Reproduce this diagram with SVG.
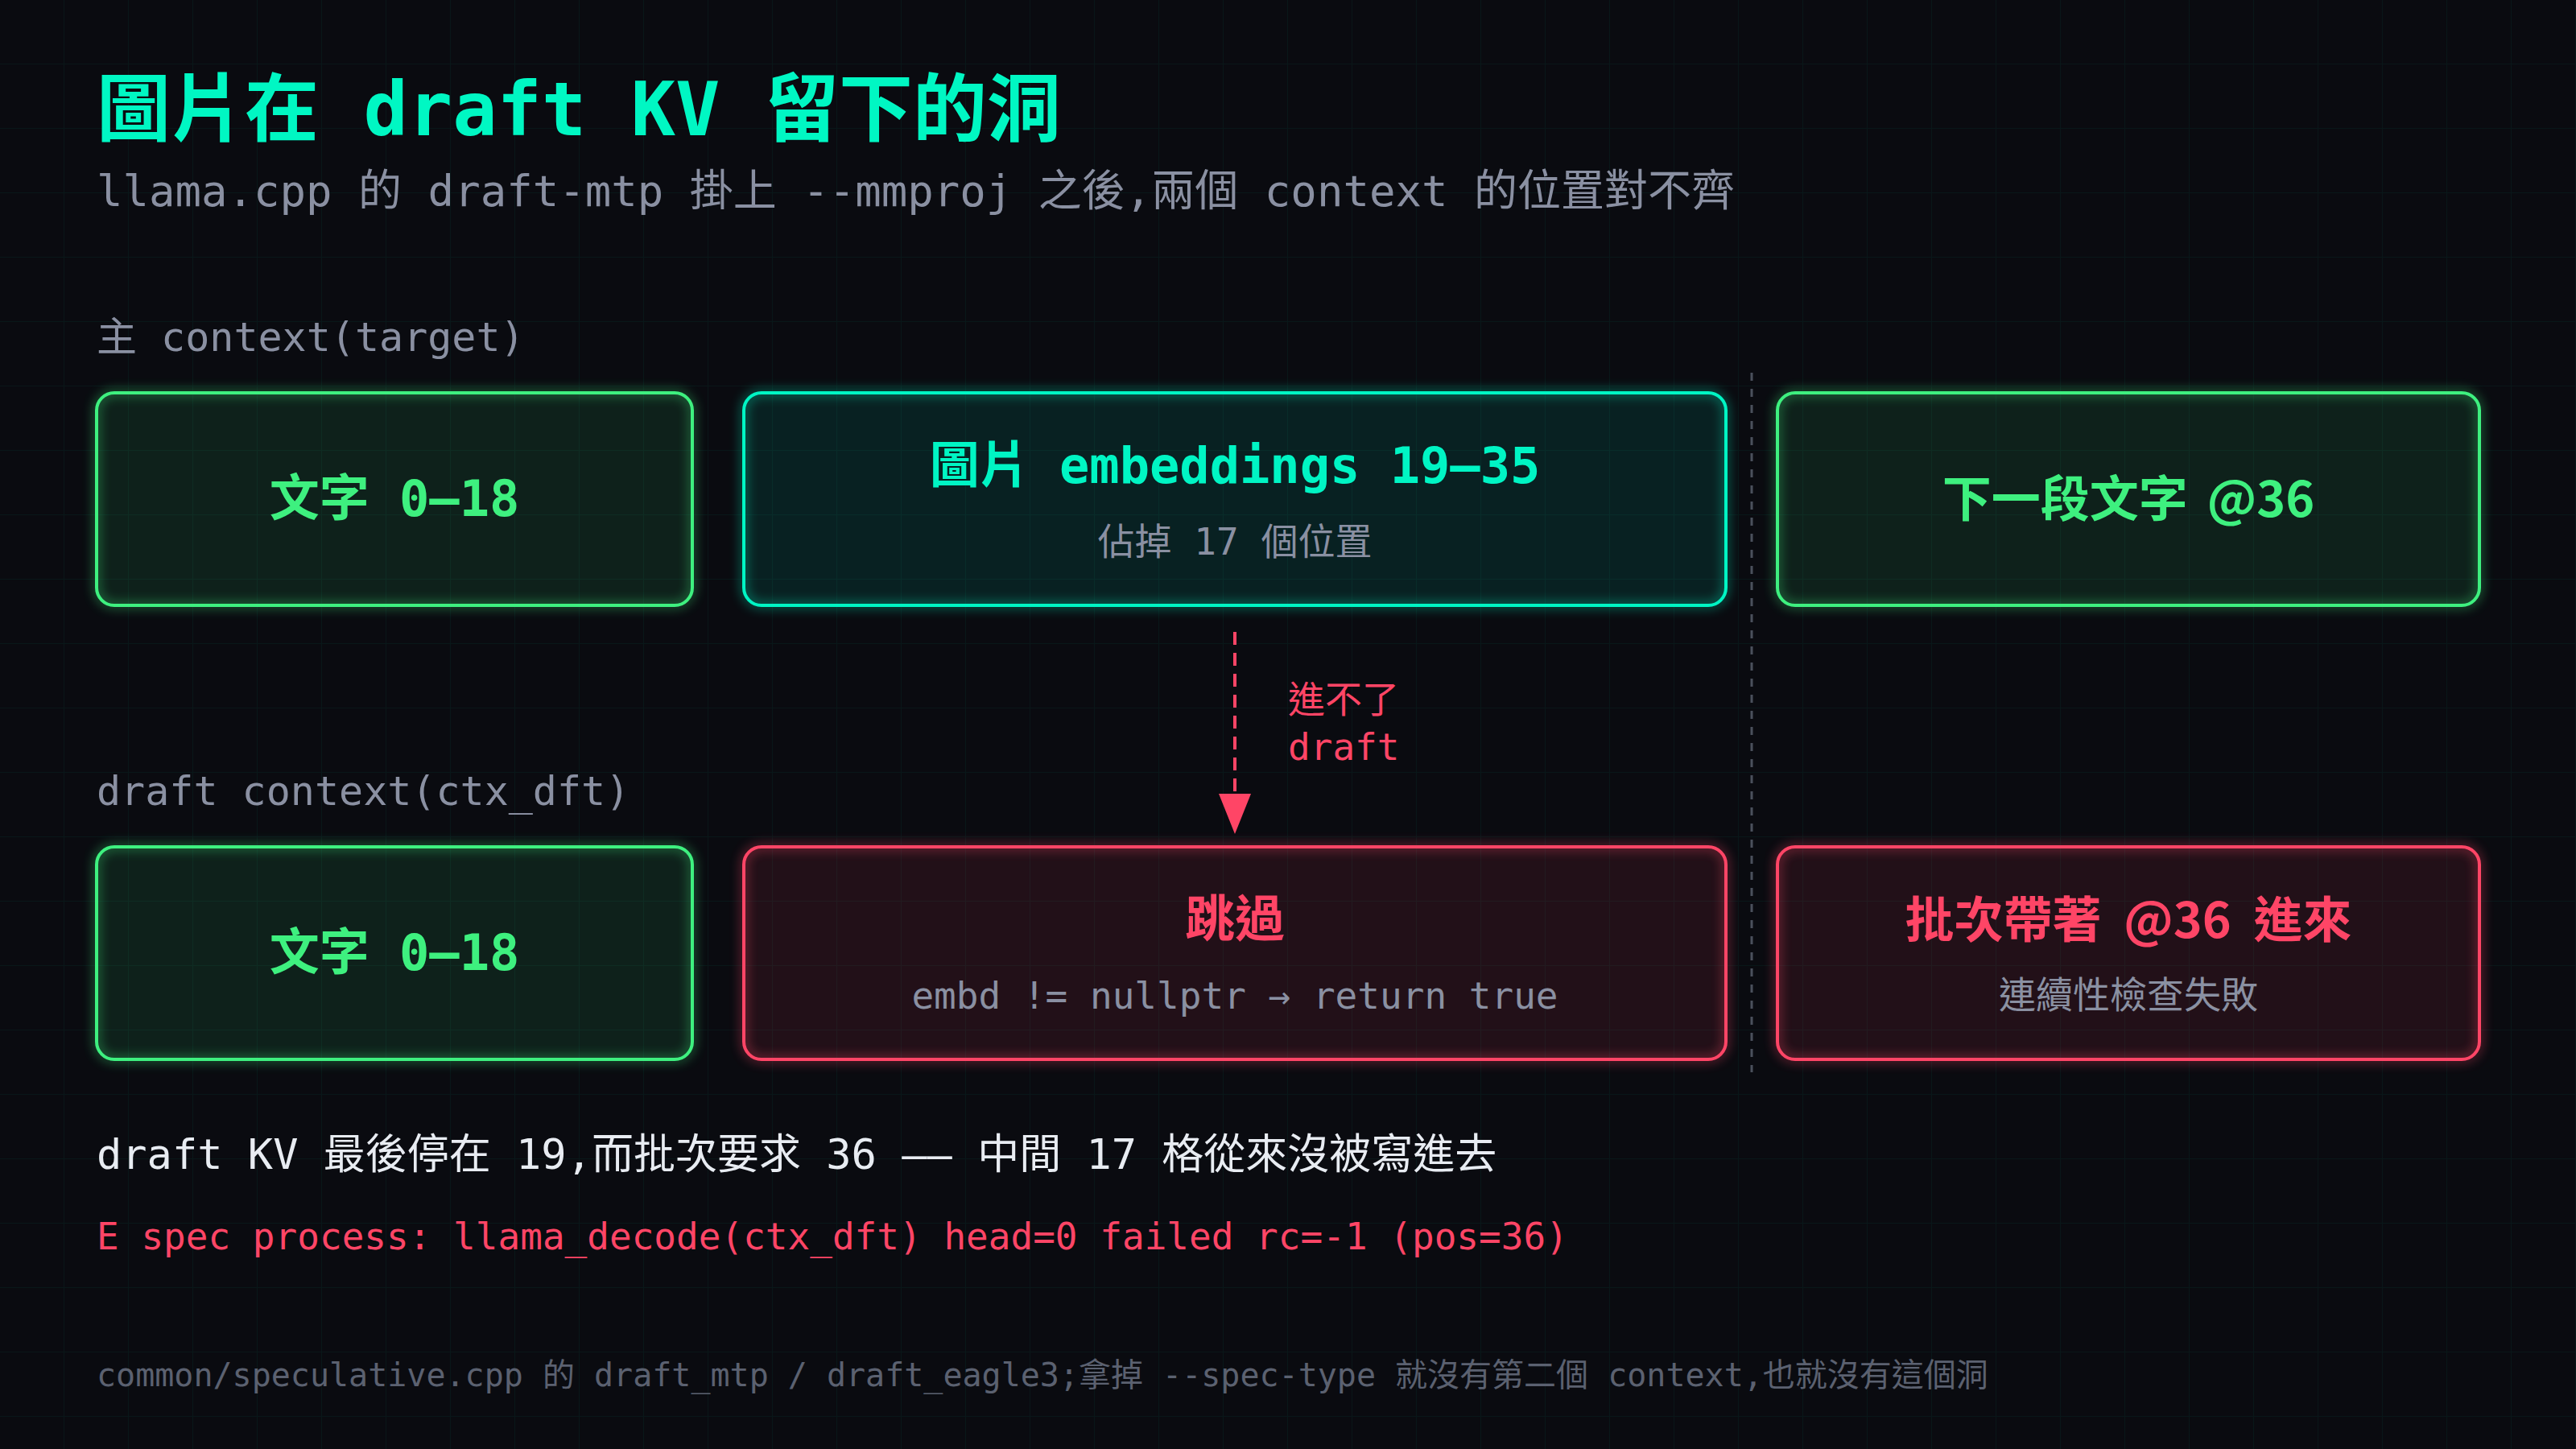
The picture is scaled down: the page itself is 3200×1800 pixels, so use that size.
<svg xmlns="http://www.w3.org/2000/svg" width="3200" height="1800" viewBox="0 0 3200 1800">
  <defs>
    <pattern id="grid" width="80" height="80" patternUnits="userSpaceOnUse">
      <path d="M80 0 V80 M0 80 H80" fill="none" stroke="#00ffc8" stroke-opacity="0.05" stroke-width="2"/>
    </pattern>
    <filter id="glow" x="-10%" y="-20%" width="120%" height="140%">
      <feGaussianBlur stdDeviation="7"/>
    </filter>
    <marker id="arrow" markerUnits="userSpaceOnUse" markerWidth="50" markerHeight="40" refX="14" refY="20" orient="auto">
      <path d="M0 0 L50 20 L0 40 Z" fill="#ff4566"/>
    </marker>
    <style>
      .mono { font-family: 'DejaVu Sans Mono', 'Noto Sans CJK TC', monospace; }
      .sans { font-family: 'Noto Sans CJK TC', 'Noto Sans', sans-serif; }
      .box { stroke-width: 4; }
      .halo { fill: none; stroke-width: 6; opacity: 0.55; filter: url(#glow); }
      .green .box { fill: #3ef07f; fill-opacity: 0.1; stroke: #3ef07f; }
      .green .halo { stroke: #3ef07f; }
      .teal .box { fill: #00f0c0; fill-opacity: 0.1; stroke: #00f5c4; }
      .teal .halo { stroke: #00f5c4; }
      .red .box { fill: #ff4566; fill-opacity: 0.1; stroke: #ff4566; }
      .red .halo { stroke: #ff4566; }
      .t-green { fill: #3ef07f; font-weight: bold; font-size: 62px; }
      .t-teal { fill: #00f5c4; font-weight: bold; font-size: 62px; }
      .t-red { fill: #ff4566; font-weight: bold; font-size: 62px; }
      .sans.t-green, .sans.t-red { font-size: 61px; }
      .sub { fill: #8a90a2; font-size: 46px; }
      .label { fill: #8a90a2; font-size: 50px; }
    </style>
  </defs>

  <rect x="0" y="0" width="3200" height="1800" fill="#0a0b10"/>
  <rect x="0" y="0" width="3200" height="1800" fill="url(#grid)"/>

  <text class="mono" x="120" y="168" font-size="92" font-weight="bold" fill="#00f7c3">圖片在 draft KV 留下的洞</text>
  <text class="mono" x="120" y="256" font-size="54" fill="#8a90a2">llama.cpp 的 draft-mtp 掛上 --mmproj 之後,兩個 context 的位置對不齊</text>

  <text class="mono label" x="120" y="436">主 context(target)</text>
  <text class="mono label" x="120" y="1000">draft context(ctx_dft)</text>

  <line x1="2176" y1="463" x2="2176" y2="1332" stroke="#4a505c" stroke-width="3" stroke-dasharray="10 10"/>

  <g id="node-target-text" class="green">
    <rect class="halo" x="120" y="488" width="740" height="264" rx="22"/>
    <rect class="box" x="120" y="488" width="740" height="264" rx="22"/>
    <text class="mono t-green" x="490" y="641" text-anchor="middle">文字 0–18</text>
  </g>

  <g id="node-target-image" class="teal">
    <rect class="halo" x="924" y="488" width="1220" height="264" rx="22"/>
    <rect class="box" x="924" y="488" width="1220" height="264" rx="22"/>
    <text class="mono t-teal" x="1534" y="600" text-anchor="middle">圖片 embeddings 19–35</text>
    <text class="mono sub" x="1534" y="689" text-anchor="middle">佔掉 17 個位置</text>
  </g>

  <g id="node-target-next" class="green">
    <rect class="halo" x="2208" y="488" width="872" height="264" rx="22"/>
    <rect class="box" x="2208" y="488" width="872" height="264" rx="22"/>
    <text class="sans t-green" x="2644" y="642" text-anchor="middle">下一段文字 <tspan dx="10">@36</tspan></text>
  </g>

  <g id="node-draft-text" class="green">
    <rect class="halo" x="120" y="1052" width="740" height="264" rx="22"/>
    <rect class="box" x="120" y="1052" width="740" height="264" rx="22"/>
    <text class="mono t-green" x="490" y="1205" text-anchor="middle">文字 0–18</text>
  </g>

  <g id="node-draft-skip" class="red">
    <rect class="halo" x="924" y="1052" width="1220" height="264" rx="22"/>
    <rect class="box" x="924" y="1052" width="1220" height="264" rx="22"/>
    <text class="mono t-red" x="1534" y="1164" text-anchor="middle">跳過</text>
    <text class="mono sub" x="1534" y="1253" text-anchor="middle">embd != nullptr → return true</text>
  </g>

  <g id="node-draft-batch" class="red">
    <rect class="halo" x="2208" y="1052" width="872" height="264" rx="22"/>
    <rect class="box" x="2208" y="1052" width="872" height="264" rx="22"/>
    <text class="sans t-red" x="2644" y="1165" text-anchor="middle">批次帶著 <tspan dx="14">@36</tspan> <tspan dx="14">進來</tspan></text>
    <text class="sans sub" x="2644" y="1252" text-anchor="middle">連續性檢查失敗</text>
  </g>

  <g id="connectors">
    <line x1="1534" y1="785" x2="1534" y2="1000" stroke="#ff4566" stroke-width="4" stroke-dasharray="16 10" marker-end="url(#arrow)"/>
    <text class="mono" x="1600" y="885" font-size="46" fill="#ff4566">進不了</text>
    <text class="mono" x="1600" y="944" font-size="46" fill="#ff4566">draft</text>
  </g>

  <text class="mono" x="120" y="1452" font-size="52" fill="#e8ecf2">draft KV 最後停在 19,而批次要求 36 —— 中間 17 格從來沒被寫進去</text>
  <text class="mono" x="120" y="1552" font-size="46" fill="#ff4566">E spec process: llama_decode(ctx_dft) head=0 failed rc=-1 (pos=36)</text>
  <text class="mono" x="120" y="1722" font-size="40" fill="#5b6170">common/speculative.cpp 的 draft_mtp / draft_eagle3;拿掉 --spec-type 就沒有第二個 context,也就沒有這個洞</text>
</svg>
